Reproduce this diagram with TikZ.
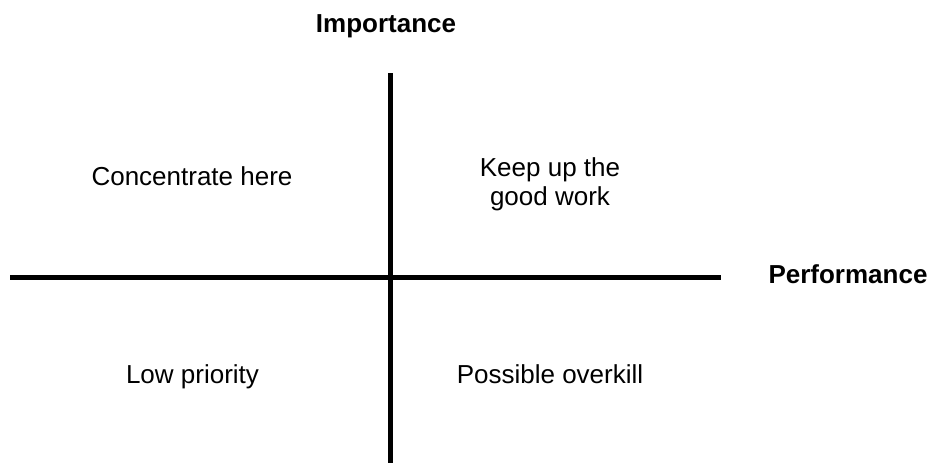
\documentclass[tikz,border=0pt]{standalone}
\usepackage{fontspec}
\setmainfont{Liberation Sans}
\begin{document}
\begin{tikzpicture}[x=1pt,y=-1pt,
  axis/.style={line width=5pt},
  lbl/.style={font=\fontsize{26}{29}\selectfont, align=center, inner sep=0pt},
  ttl/.style={font=\fontsize{26}{29}\selectfont\bfseries, inner sep=0pt, anchor=base}]
\useasboundingbox (0,0) rectangle (932,463);
\coordinate (vtop) at (390,73);
\coordinate (vbot) at (390,463);
\coordinate (hl) at (10,277.5);
\coordinate (hr) at (721,277.5);
\draw[axis] (vtop) -- (vbot);
\draw[axis] (hl) -- (hr);
\node[ttl] (imp) at (386,32.5) {Importance};
\node[ttl] (perf) at (848,283) {Performance};
\node[lbl, anchor=base] (q1) at (192,185) {Concentrate here};
\node[lbl] (q2) at (550,184) {Keep up the\\good work};
\node[lbl, anchor=base] (q3) at (192.5,383) {Low priority};
\node[lbl, anchor=base] (q4) at (550,383) {Possible overkill};
\end{tikzpicture}
\end{document}
